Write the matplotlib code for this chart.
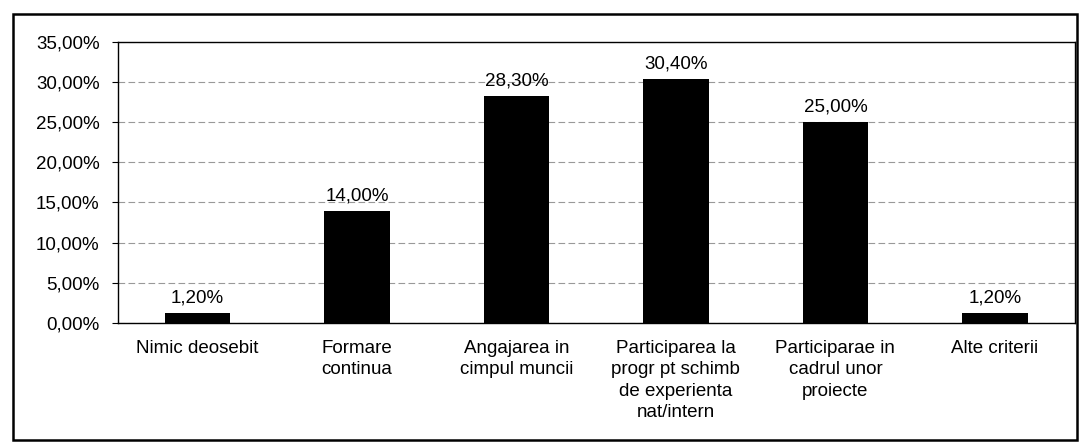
import numpy as np
import matplotlib.pyplot as plt
from matplotlib.patches import Rectangle

categories = ["Nimic deosebit", "Formare\ncontinua", "Angajarea in\ncimpul muncii",
              "Participarea la\nprogr pt schimb\nde experienta\nnat/intern",
              "Participarae in\ncadrul unor\nproiecte", "Alte criterii"]
values = [1.20, 14.00, 28.30, 30.40, 25.00, 1.20]
yticks = [0, 5, 10, 15, 20, 25, 30, 35]

plt.rcParams['font.family'] = ['Liberation Sans', 'DejaVu Sans']
fs = 13.5

fig = plt.figure(figsize=(10.8, 4.46), dpi=100)
ax = fig.add_axes([0.109, 0.276, 0.886, 0.630])

x = np.arange(len(categories))
ax.bar(x, values, width=0.41, color='black', zorder=3)

# etichete valori deasupra barelor
for i, v in enumerate(values):
    ax.text(i, v + 0.8, f"{v:.2f}%".replace('.', ','), ha='center', va='bottom', fontsize=fs)

ax.set_xlim(-0.5, len(categories) - 0.5)
ax.set_ylim(0, 35)
ax.set_yticks(yticks)
ax.set_yticklabels([f"{t:.2f}%".replace('.', ',') for t in yticks], fontsize=fs)
ax.set_xticks(x)
ax.set_xticklabels(categories, fontsize=fs, linespacing=1.35, va='top')
ax.tick_params(axis='x', length=0, pad=12)
ax.tick_params(axis='y', length=4, pad=9)

ax.yaxis.grid(True, linestyle=(0, (6, 3)), color='#999999', linewidth=0.8, zorder=0)
for s in ax.spines.values():
    s.set_linewidth(1.0)
    s.set_color('black')

# chenar exterior
fig.patches.append(Rectangle((13 / 1080, 6 / 446), 1064 / 1080, 426 / 446,
                             transform=fig.transFigure, fill=False,
                             edgecolor='black', linewidth=1.8))

fig.savefig("out.png", dpi=100)
